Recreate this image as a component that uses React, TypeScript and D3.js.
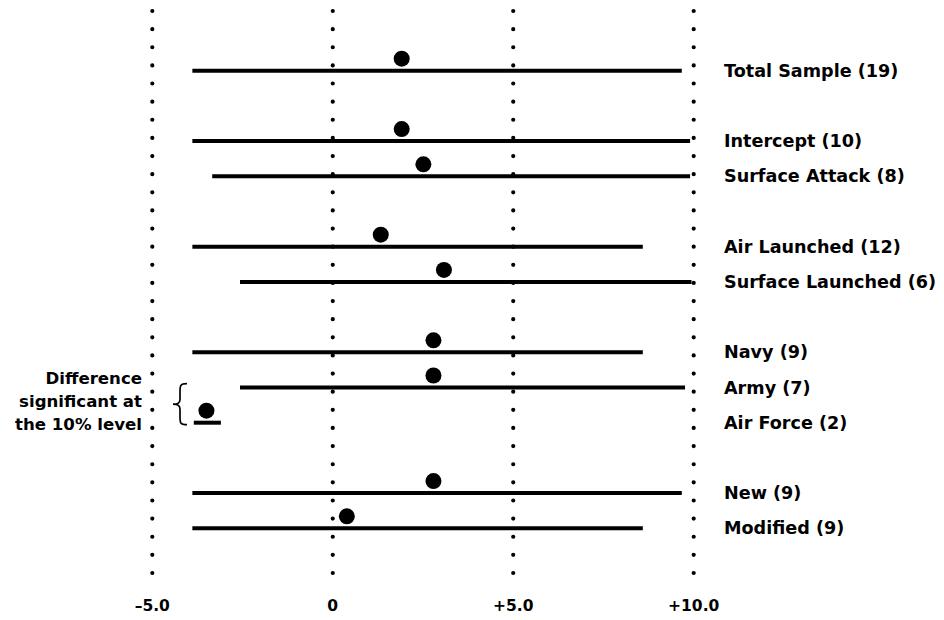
import React from "react";
import * as d3 from "d3";

const groups: string[][] = [
  ["Total Sample (19)"],
  ["Intercept (10)", "Surface Attack (8)"],
  ["Air Launched (12)", "Surface Launched (6)"],
  ["Navy (9)", "Army (7)", "Air Force (2)"],
  ["New (9)", "Modified (9)"],
];
const categories: string[] = groups.flat();
const means: number[] = [1.91, 1.91, 2.51, 1.33, 3.08, 2.79, 2.79, -3.5, 2.79, 0.39];
const lowers: number[] = [-3.89, -3.89, -3.34, -3.89, -2.57, -3.89, -2.57, -3.85, -3.89, -3.89];
const uppers: number[] = [9.67, 9.9, 9.9, 8.59, 9.94, 8.59, 9.76, -3.1, 9.67, 8.59];
const tickValues: number[] = [-5, 0, 5, 10];
const tickLabels: string[] = ["\u20135.0", "0", "+5.0", "+10.0"];
const noteLines: string[] = ["Difference", "significant at", "the 10% level"];
const noteCategory = "Air Force (2)";

const W = 944;
const H = 620;
const FONT = "'DejaVu Sans', 'Liberation Sans', Arial, sans-serif";

export default function App() {
  // slot index per category with one empty slot between groups
  const slots: number[] = [];
  let s = 0;
  groups.forEach((g, gi) => {
    if (gi > 0) s += 1;
    g.forEach(() => {
      slots.push(s);
      s += 1;
    });
  });
  const maxSlot = s - 1;

  const x = d3.scaleLinear().domain([-5, 10]).range([152.3, 693.7]);
  const y = d3.scaleLinear().domain([0, maxSlot]).range([70.7, 528.3]);

  const dotOffset = 12;
  const gridTop = 11;
  const gridBottom = 573;

  const noteIdx = categories.indexOf(noteCategory);
  const noteY = y(slots[noteIdx]);

  const brace = (() => {
    const bx = 187;
    const top = noteY - 39;
    const bot = noteY + 2;
    const mid = (top + bot) / 2;
    const p = d3.path();
    p.moveTo(bx, top);
    p.bezierCurveTo(bx - 7, top, bx - 7, top + 2, bx - 7, top + 8);
    p.lineTo(bx - 7, mid - 5);
    p.bezierCurveTo(bx - 7, mid - 1, bx - 9, mid, bx - 14, mid);
    p.bezierCurveTo(bx - 9, mid, bx - 7, mid + 1, bx - 7, mid + 5);
    p.lineTo(bx - 7, bot - 8);
    p.bezierCurveTo(bx - 7, bot - 2, bx - 7, bot, bx, bot);
    return p.toString();
  })();

  return (
    <svg
      width={W}
      height={H}
      viewBox={`0 0 ${W} ${H}`}
      style={{ position: "absolute", left: 0, top: 0, background: "#fff" }}
    >
      <rect x={0} y={0} width={W} height={H} fill="#fff" />
      {/* dotted gridlines */}
      {tickValues.map((t) => (
        <line
          key={"g" + t}
          x1={x(t)}
          x2={x(t)}
          y1={gridTop}
          y2={gridBottom}
          stroke="#000"
          strokeWidth={4.2}
          strokeLinecap="round"
          strokeDasharray={`0 ${(gridBottom - gridTop) / 31}`}
        />
      ))}
      {/* tick labels */}
      {tickValues.map((t, i) => (
        <text
          key={"t" + t}
          x={x(t)}
          y={611}
          textAnchor="middle"
          fontFamily={FONT}
          fontWeight="bold"
          fontSize={15.5}
          fill="#000"
        >
          {tickLabels[i]}
        </text>
      ))}
      {/* intervals, means, labels */}
      {categories.map((c, i) => {
        const yy = y(slots[i]);
        return (
          <g key={c}>
            <line
              x1={x(lowers[i])}
              x2={x(uppers[i])}
              y1={yy}
              y2={yy}
              stroke="#000"
              strokeWidth={4}
            />
            <circle cx={x(means[i])} cy={yy - dotOffset} r={8} fill="#000" />
            <text
              x={724}
              y={yy}
              dy="0.35em"
              fontFamily={FONT}
              fontWeight="bold"
              fontSize={17.6}
              fill="#000"
            >
              {c}
            </text>
          </g>
        );
      })}
      {/* annotation */}
      {noteLines.map((t, i) => (
        <text
          key={"n" + i}
          x={142}
          y={noteY - 45 + i * 23}
          dy="0.35em"
          textAnchor="end"
          fontFamily={FONT}
          fontWeight="bold"
          fontSize={16.6}
          fill="#000"
        >
          {t}
        </text>
      ))}
      <path d={brace} fill="none" stroke="#000" strokeWidth={1.7} />
    </svg>
  );
}
